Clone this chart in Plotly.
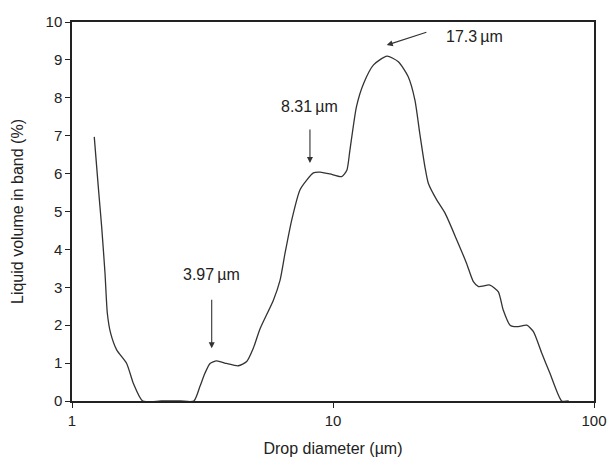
import plotly.graph_objects as go
import math

diameter_um = [1.217, 1.261, 1.299, 1.338, 1.366, 1.406, 1.483, 1.62, 1.717, 1.866,
               2.2, 2.6, 2.93, 3.09, 3.23, 3.38, 3.58, 3.91, 4.34, 4.67, 4.95, 5.25,
               5.91, 6.27, 6.55, 6.95, 7.47, 7.93, 8.41, 8.92, 9.74, 10.8, 11.3, 11.6,
               12.3, 13.1, 14.3, 16.1, 17.8, 19.4, 20.6, 21.5, 22.5, 23.2, 25.0, 26.9,
               29.8, 32.5, 34.5, 36.1, 39.9, 43.0, 44.9, 47.7, 50.6, 55.3, 58.6, 63.1,
               67.8, 75.2, 80.0]
volume_pct = [6.97, 5.65, 4.6, 3.37, 2.31, 1.79, 1.35, 0.99, 0.47, 0.0,
              0.0, 0.0, 0.0, 0.38, 0.73, 0.99, 1.06, 0.99, 0.93, 1.04, 1.39, 1.9,
              2.66, 3.19, 3.9, 4.78, 5.57, 5.83, 6.02, 6.04, 5.99, 5.92, 6.09, 6.6,
              7.77, 8.38, 8.87, 9.10, 8.95, 8.56, 7.94, 7.06, 6.18, 5.74, 5.30, 4.95,
              4.25, 3.63, 3.15, 3.02, 3.06, 2.88, 2.40, 2.0, 1.96, 2.0, 1.83, 1.26,
              0.73, 0.0, 0.0]

# annotations: label, text position (x, y), arrow tip (x, y), arrow tail (x, y)
labels = ["3.97\u2009\u00b5m", "8.31\u2009\u00b5m", "17.3\u2009\u00b5m"]
label_x = [3.41, 8.16, 34.7]
label_y = [3.35, 7.76, 9.63]
tip_x = [3.43, 8.16, 16.06]
tip_y = [1.39, 6.28, 9.39]
tail_x = [3.43, 8.16, 23.1]
tail_y = [2.71, 7.20, 9.74]

fig = go.Figure()
fig.add_trace(go.Scatter(x=diameter_um, y=volume_pct, mode="lines",
                         line=dict(color="#333333", width=1.3, shape="spline", smoothing=0.6),
                         showlegend=False, hoverinfo="skip"))

anns = []
for i in range(len(labels)):
    anns.append(dict(x=math.log10(label_x[i]), y=label_y[i], xref="x", yref="y",
                     text=labels[i], showarrow=False,
                     font=dict(family="Liberation Sans, Arial, sans-serif", size=16, color="#222222")))
    anns.append(dict(x=math.log10(tip_x[i]), y=tip_y[i], xref="x", yref="y",
                     ax=math.log10(tail_x[i]), ay=tail_y[i], axref="x", ayref="y",
                     text="", showarrow=True, arrowhead=2, arrowsize=1.1, arrowwidth=1.1,
                     arrowcolor="#333333", standoff=0, startstandoff=0))

fig.update_layout(
    width=608, height=457,
    margin=dict(l=72, r=14, t=22, b=56, autoexpand=False),
    paper_bgcolor="white", plot_bgcolor="white",
    font=dict(family="Liberation Sans, Arial, sans-serif", size=15, color="#222222"),
    annotations=anns,
    xaxis=dict(type="log", range=[0, 2], tickvals=[1, 10, 100], ticktext=["1", "10", "100"],
               ticks="outside", ticklen=5, tickwidth=1.2, tickcolor="#222222",
               showline=True, linecolor="#222222", linewidth=1.5, mirror=True,
               showgrid=False, zeroline=False, automargin=False,
               title=dict(text="Drop diameter (\u00b5m)", font=dict(size=16), standoff=17)),
    yaxis=dict(range=[0, 10], dtick=1, tick0=0,
               ticks="outside", ticklen=5, tickwidth=1.2, tickcolor="#222222",
               showline=True, linecolor="#222222", linewidth=1.5, mirror=True,
               showgrid=False, zeroline=False, automargin=False,
               title=dict(text="Liquid volume in band (%)", font=dict(size=16), standoff=18)),
)

fig.write_html("out.html")
